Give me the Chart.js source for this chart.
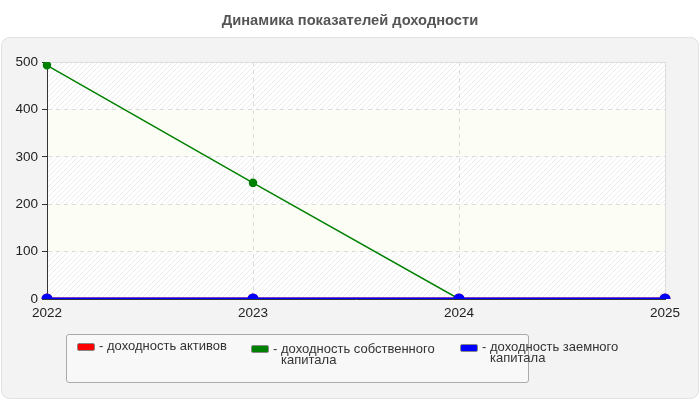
<!DOCTYPE html>
<html><head><meta charset="utf-8">
<script src="https://cdn.jsdelivr.net/npm/chart.js@4/dist/chart.umd.min.js"></script>
<style>
html,body{margin:0;padding:0;background:#fff;}
#wrap{position:relative;width:700px;height:400px;font-family:"Liberation Sans",Arial,sans-serif;}
canvas{position:absolute;left:0;top:0;}
#title{position:absolute;left:0;top:12px;width:700px;text-align:center;font-weight:bold;font-size:14.7px;line-height:17px;color:#555;}
#legend{position:absolute;left:66px;top:334px;width:461px;height:47px;background:#f8f8f8;border:1px solid #aaa;border-radius:3px;}
.item,.dash{position:absolute;font-size:13px;line-height:11px;color:#333;white-space:nowrap;}
.sw{position:absolute;width:16px;height:6px;border:1px solid #888;border-radius:2px;}
</style></head>
<body><div id="wrap"><canvas id="c" width="700" height="400"></canvas>
<div id="title">Динамика показателей доходности</div>
<div id="legend"></div>
</div>
<script>
const years = ['2022','2023','2024','2025'];
const seriesNames = ['доходность активов','доходность собственного капитала','доходность заемного капитала'];
const roa = [0, 0, 0, 0];
const roe = [493, 245, 0, 0];
const rod = [0, 0, 0, 0];
const yTicks = [0, 100, 200, 300, 400, 500];
const colors = ['#ff0000','#008000','#0000ff'];

// HTML legend
const legendLayout = [
  {sx:10, sy:8, dx:32, tx:40, ty:5, lines:['доходность активов']},
  {sx:184, sy:10, dx:206, tx:214, ty:8, lines:['доходность собственного','капитала']},
  {sx:393, sy:9, dx:415, tx:423, ty:6, lines:['доходность заемного','капитала']}
];
const leg = document.getElementById('legend');
legendLayout.forEach((L,i)=>{
  const s=document.createElement('div');s.className='sw';
  s.style.left=L.sx+'px';s.style.top=L.sy+'px';s.style.background=colors[i];
  leg.appendChild(s);
  const d=document.createElement('div');d.className='dash';
  d.style.left=L.dx+'px';d.style.top=L.ty+'px';d.textContent='-';
  leg.appendChild(d);
  const t=document.createElement('div');t.className='item';
  t.style.left=L.tx+'px';t.style.top=L.ty+'px';
  t.innerHTML=L.lines.join('<br>');
  leg.appendChild(t);
});

function hatch(){
  const p=document.createElement('canvas');p.width=5;p.height=5;
  const g=p.getContext('2d');g.fillStyle='#ffffff';g.fillRect(0,0,5,5);
  g.strokeStyle='#ececec';g.lineWidth=1;
  g.beginPath();g.moveTo(0,5);g.lineTo(5,0);g.moveTo(-1,1);g.lineTo(1,-1);g.moveTo(4,6);g.lineTo(6,4);g.stroke();
  return p;
}
const bgPlugin={
  id:'bg',
  beforeDraw(chart){
    const ctx=chart.ctx;const a=chart.chartArea;const ys=chart.scales.y;
    ctx.save();
    ctx.fillStyle='#fff';ctx.fillRect(0,0,700,400);
    ctx.beginPath();ctx.roundRect(1.5,37.5,697,361,8);
    ctx.fillStyle='#f3f3f3';ctx.fill();ctx.strokeStyle='#e2e2e2';ctx.lineWidth=1;ctx.stroke();
    const pat=ctx.createPattern(hatch(),'repeat');
    for(let i=0;i<yTicks.length-1;i++){
      const y1=ys.getPixelForValue(yTicks[i]);const y2=ys.getPixelForValue(yTicks[i+1]);
      ctx.fillStyle=(i%2===0)?pat:'#fcfdf5';
      ctx.fillRect(a.left,y2,a.right-a.left,y1-y2);
    }
    ctx.strokeStyle='#dddddd';ctx.lineWidth=1;
    ctx.beginPath();ctx.moveTo(a.left,Math.round(a.top)+0.5);ctx.lineTo(a.right,Math.round(a.top)+0.5);
    ctx.moveTo(Math.round(a.right)+0.5,a.top);ctx.lineTo(Math.round(a.right)+0.5,a.bottom);ctx.stroke();
    ctx.restore();
  }
};

new Chart(document.getElementById('c'),{
  type:'line',
  data:{labels:years,datasets:[
    {label:seriesNames[0],data:roa,borderColor:colors[0],backgroundColor:colors[0],borderWidth:3,pointRadius:4,order:2},
    {label:seriesNames[1],data:roe,borderColor:colors[1],backgroundColor:colors[1],borderWidth:1.5,pointRadius:3.5,order:1},
    {label:seriesNames[2],data:rod,borderColor:colors[2],backgroundColor:colors[2],borderWidth:3,pointRadius:4,order:0}
  ]},
  options:{
    responsive:false,animation:false,
    layout:{padding:{top:62,left:0,right:35,bottom:0}},
    plugins:{legend:{display:false},tooltip:{enabled:false},title:{display:false}},
    elements:{line:{tension:0},point:{borderWidth:0}},
    scales:{
      x:{
        offset:false,
        afterFit(s){s.height=101;},
        grid:{drawTicks:false,color:(c)=>(c.index===0||c.index===years.length-1)?'rgba(0,0,0,0)':'#dcdcdc'},
        border:{color:'#333',width:1,dash:[4,4]},
        ticks:{padding:6,color:'#222',font:{family:'"Liberation Sans", Arial',size:13.5},maxRotation:0}
      },
      y:{
        min:0,max:500,
        afterFit(s){s.width=47;},
        afterBuildTicks(s){s.ticks=yTicks.map(v=>({value:v}));},
        grid:{tickLength:5,tickColor:'#333',color:(c)=>(c.tick&&(c.tick.value===0||c.tick.value===500))?'rgba(0,0,0,0)':'#dcdcdc'},
        border:{color:'#333',width:1,dash:[4,4]},
        ticks:{padding:4,color:'#222',font:{family:'"Liberation Sans", Arial',size:13.5}}
      }
    }
  },
  plugins:[bgPlugin]
});
</script>
</body></html>
